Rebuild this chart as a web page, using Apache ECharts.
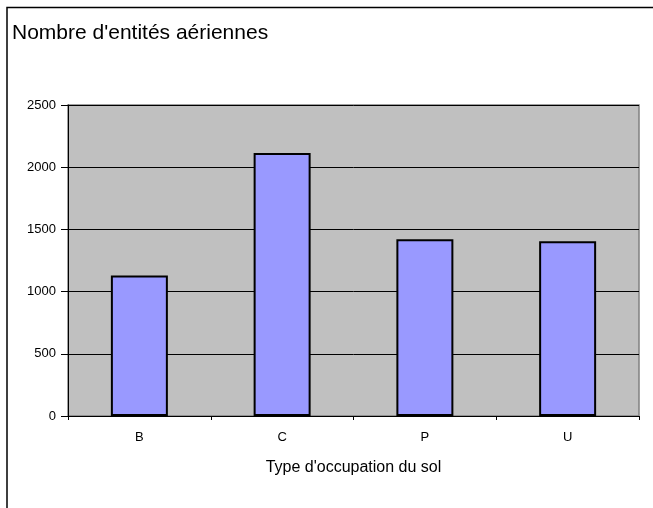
<!DOCTYPE html>
<html>
<head>
<meta charset="utf-8">
<script src="https://cdn.jsdelivr.net/npm/echarts@6/dist/echarts.min.js"></script>
<style>
  html, body { margin: 0; padding: 0; background: #fff; }
  #chart { width: 653px; height: 508px; }
</style>
</head>
<body>
<div id="chart"></div>
<script>
// Aerial features counted per land-use type
const categories = ['B', 'C', 'P', 'U'];
const counts = [1130, 2115, 1420, 1405];
const yTicks = { min: 0, max: 2500, interval: 500 };

const chart = echarts.init(document.getElementById('chart'), null, { renderer: 'canvas' });
const font = '"Liberation Sans", Arial, sans-serif';

chart.setOption({
  animation: false,
  backgroundColor: '#ffffff',
  title: {
    text: "Nombre d'entités aériennes",
    left: 7,
    top: 18,
    textStyle: { fontFamily: font, fontSize: 21, fontWeight: 'normal', color: '#000' }
  },
  graphic: [{
    type: 'rect',
    shape: { x: 7, y: 7.5, width: 700, height: 600 },
    style: { fill: 'none', stroke: '#000', lineWidth: 1.5 },
    z: -1
  }],
  grid: {
    left: 68, right: 14, top: 105, bottom: 92,
    show: true,
    backgroundColor: '#c0c0c0',
    borderColor: '#808080',
    borderWidth: 1.5
  },
  xAxis: {
    type: 'category',
    data: categories,
    name: "Type d'occupation du sol",
    nameLocation: 'middle',
    nameGap: 44,
    nameTextStyle: { fontFamily: font, fontSize: 16, color: '#000' },
    axisLine: { lineStyle: { color: '#000', width: 1 } },
    axisTick: { show: true, length: 4, lineStyle: { color: '#000' } },
    axisLabel: { fontFamily: font, fontSize: 13, color: '#000', margin: 15 },
    splitLine: { show: false }
  },
  yAxis: {
    type: 'value',
    min: yTicks.min,
    max: yTicks.max,
    interval: yTicks.interval,
    axisLine: { show: true, lineStyle: { color: '#000', width: 1 } },
    axisTick: { show: true, length: 7, lineStyle: { color: '#000' } },
    axisLabel: {
      fontFamily: font, fontSize: 13, color: '#000', margin: 12,
      formatter: (v) => String(v)
    },
    splitLine: { show: true, lineStyle: { color: '#000', width: 1 } }
  },
  series: [{
    type: 'bar',
    data: counts,
    barWidth: 57,
    itemStyle: { color: '#9999ff', borderColor: '#000', borderWidth: 2 }
  }]
});
</script>
</body>
</html>
